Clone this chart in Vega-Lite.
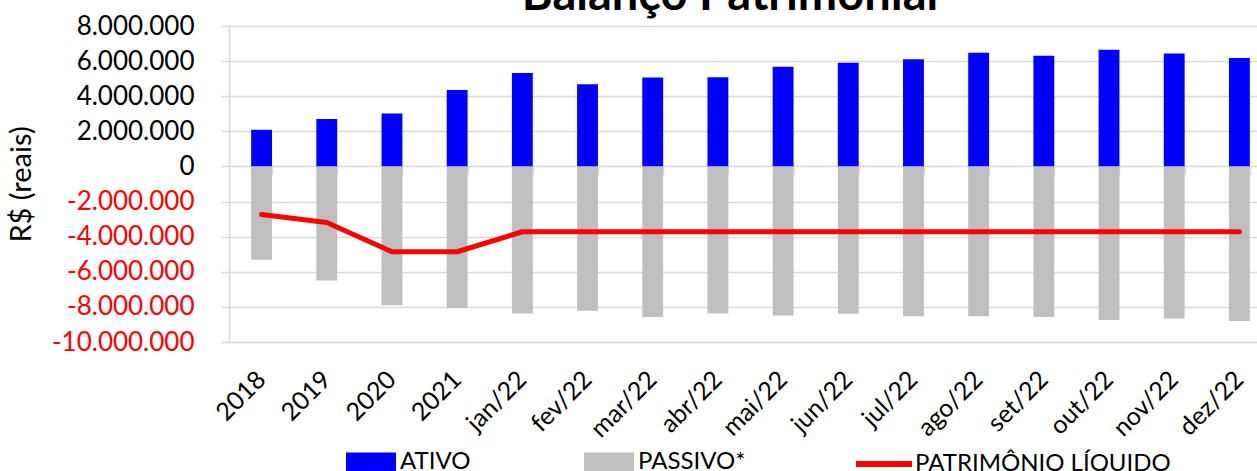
{
  "$schema": "https://vega.github.io/schema/vega-lite/v6.json",
  "autosize": "none",
  "padding": {"left": 229, "top": 26, "right": 0, "bottom": 129},
  "width": 1028,
  "height": 316,
  "config": {
    "font": "Lato",
    "view": {"stroke": null},
    "legend": {"labelFont": "Lato", "labelFontSize": 24, "labelColor": "#000000", "padding": 0, "labelLimit": 500}
  },
  "title": {
    "text": "Balanço Patrimonial",
    "font": "Lato",
    "fontSize": 47,
    "fontWeight": "bold",
    "color": "#000000",
    "anchor": "middle",
    "baseline": "alphabetic",
    "offset": 0,
    "dx": -13,
    "dy": 44
  },
  "data": {
    "values": [
      {"periodo": "2018", "serie": "ATIVO", "valor": 2090000},
      {"periodo": "2019", "serie": "ATIVO", "valor": 2700000},
      {"periodo": "2020", "serie": "ATIVO", "valor": 3020000},
      {"periodo": "2021", "serie": "ATIVO", "valor": 4350000},
      {"periodo": "jan/22", "serie": "ATIVO", "valor": 5320000},
      {"periodo": "fev/22", "serie": "ATIVO", "valor": 4680000},
      {"periodo": "mar/22", "serie": "ATIVO", "valor": 5060000},
      {"periodo": "abr/22", "serie": "ATIVO", "valor": 5080000},
      {"periodo": "mai/22", "serie": "ATIVO", "valor": 5680000},
      {"periodo": "jun/22", "serie": "ATIVO", "valor": 5910000},
      {"periodo": "jul/22", "serie": "ATIVO", "valor": 6100000},
      {"periodo": "ago/22", "serie": "ATIVO", "valor": 6480000},
      {"periodo": "set/22", "serie": "ATIVO", "valor": 6310000},
      {"periodo": "out/22", "serie": "ATIVO", "valor": 6650000},
      {"periodo": "nov/22", "serie": "ATIVO", "valor": 6430000},
      {"periodo": "dez/22", "serie": "ATIVO", "valor": 6180000},
      {"periodo": "2018", "serie": "PASSIVO*", "valor": -5310000},
      {"periodo": "2019", "serie": "PASSIVO*", "valor": -6500000},
      {"periodo": "2020", "serie": "PASSIVO*", "valor": -7900000},
      {"periodo": "2021", "serie": "PASSIVO*", "valor": -8070000},
      {"periodo": "jan/22", "serie": "PASSIVO*", "valor": -8370000},
      {"periodo": "fev/22", "serie": "PASSIVO*", "valor": -8220000},
      {"periodo": "mar/22", "serie": "PASSIVO*", "valor": -8580000},
      {"periodo": "abr/22", "serie": "PASSIVO*", "valor": -8370000},
      {"periodo": "mai/22", "serie": "PASSIVO*", "valor": -8490000},
      {"periodo": "jun/22", "serie": "PASSIVO*", "valor": -8390000},
      {"periodo": "jul/22", "serie": "PASSIVO*", "valor": -8530000},
      {"periodo": "ago/22", "serie": "PASSIVO*", "valor": -8530000},
      {"periodo": "set/22", "serie": "PASSIVO*", "valor": -8580000},
      {"periodo": "out/22", "serie": "PASSIVO*", "valor": -8750000},
      {"periodo": "nov/22", "serie": "PASSIVO*", "valor": -8660000},
      {"periodo": "dez/22", "serie": "PASSIVO*", "valor": -8810000},
      {"periodo": "2018", "serie": "PATRIMÔNIO LÍQUIDO", "valor": -2740000},
      {"periodo": "2019", "serie": "PATRIMÔNIO LÍQUIDO", "valor": -3190000},
      {"periodo": "2020", "serie": "PATRIMÔNIO LÍQUIDO", "valor": -4860000},
      {"periodo": "2021", "serie": "PATRIMÔNIO LÍQUIDO", "valor": -4860000},
      {"periodo": "jan/22", "serie": "PATRIMÔNIO LÍQUIDO", "valor": -3720000},
      {"periodo": "fev/22", "serie": "PATRIMÔNIO LÍQUIDO", "valor": -3720000},
      {"periodo": "mar/22", "serie": "PATRIMÔNIO LÍQUIDO", "valor": -3720000},
      {"periodo": "abr/22", "serie": "PATRIMÔNIO LÍQUIDO", "valor": -3720000},
      {"periodo": "mai/22", "serie": "PATRIMÔNIO LÍQUIDO", "valor": -3720000},
      {"periodo": "jun/22", "serie": "PATRIMÔNIO LÍQUIDO", "valor": -3720000},
      {"periodo": "jul/22", "serie": "PATRIMÔNIO LÍQUIDO", "valor": -3720000},
      {"periodo": "ago/22", "serie": "PATRIMÔNIO LÍQUIDO", "valor": -3720000},
      {"periodo": "set/22", "serie": "PATRIMÔNIO LÍQUIDO", "valor": -3720000},
      {"periodo": "out/22", "serie": "PATRIMÔNIO LÍQUIDO", "valor": -3720000},
      {"periodo": "nov/22", "serie": "PATRIMÔNIO LÍQUIDO", "valor": -3720000},
      {"periodo": "dez/22", "serie": "PATRIMÔNIO LÍQUIDO", "valor": -3720000}
    ]
  },
  "encoding": {
    "y": {
      "field": "valor", "type": "quantitative", "stack": null,
      "scale": {"domain": [-10000000, 8000000], "nice": false, "zero": true},
      "axis": {
        "title": "R$ (reais)", "titleFont": "Lato", "titleFontSize": 29, "titleFontWeight": "normal",
        "titleColor": "#000000", "titlePadding": 15,
        "values": [-10000000, -8000000, -6000000, -4000000, -2000000, 0, 2000000, 4000000, 6000000, 8000000],
        "labelExpr": "replace(replace(replace(replace(format(datum.value, ','), ',', '.'), ',', '.'), ',', '.'), '\u2212', '-')",
        "labelOverlap": false, "labelBound": false,
        "labelFont": "Lato", "labelFontSize": 26, "labelPadding": 27,
        "labelColor": {"expr": "datum.value < 0 ? '#FF0000' : '#000000'"},
        "grid": true, "gridColor": "#D9D9D9", "gridWidth": 1.5,
        "domain": true, "domainColor": "#D9D9D9", "domainWidth": 1.5,
        "ticks": true, "tickSize": 8, "tickColor": "#D9D9D9", "tickWidth": 1.5
      }
    }
  },
  "resolve": {"axis": {"x": "independent"}},
  "layer": [
    {
      "transform": [{"filter": "datum.serie !== 'PATRIMÔNIO LÍQUIDO'"}],
      "mark": {"type": "bar"},
      "encoding": {
        "x": {
          "field": "periodo", "type": "nominal", "sort": null,
          "scale": {"range": [0, 1043], "paddingInner": 0.68, "paddingOuter": 0.34},
          "axis": {
            "orient": "bottom", "title": null, "domain": false, "ticks": false, "grid": false,
            "labelAngle": -45, "labelAlign": "right", "labelBaseline": "middle",
            "labelFont": "Lato", "labelFontSize": 25, "labelColor": "#000000", "labelPadding": 33
          }
        },
        "fill": {
          "field": "serie", "type": "nominal",
          "scale": {"domain": ["ATIVO", "PASSIVO*"], "range": ["#0000FF", "#BFBFBF"]},
          "legend": {
            "orient": "none", "legendX": 117, "legendY": 411, "direction": "horizontal",
            "title": null, "symbolType": "M-1,-0.38H1V0.38H-1Z", "symbolSize": 2500,
            "symbolStrokeWidth": 0, "columnPadding": 113, "labelOffset": 4
          }
        }
      }
    },
    {
      "transform": [{"filter": "datum.serie === 'PATRIMÔNIO LÍQUIDO'"}],
      "mark": {"type": "line", "strokeWidth": 5, "strokeCap": "round", "strokeJoin": "round"},
      "encoding": {
        "x": {
          "field": "periodo", "type": "nominal", "sort": null,
          "axis": {
            "orient": "bottom", "offset": -175.6, "title": null, "labels": false, "domain": false, "grid": false,
            "ticks": true, "tickBand": "extent", "tickSize": 8, "tickColor": "#D9D9D9", "tickWidth": 1.5
          }
        },
        "stroke": {
          "field": "serie", "type": "nominal",
          "scale": {"domain": ["PATRIMÔNIO LÍQUIDO"], "range": ["#FF0000"]},
          "legend": {
            "orient": "none", "legendX": 624, "legendY": 407, "direction": "horizontal",
            "title": null, "symbolType": "stroke", "symbolSize": 3136, "symbolStrokeWidth": 6,
            "labelOffset": 0
          }
        }
      }
    }
  ]
}
